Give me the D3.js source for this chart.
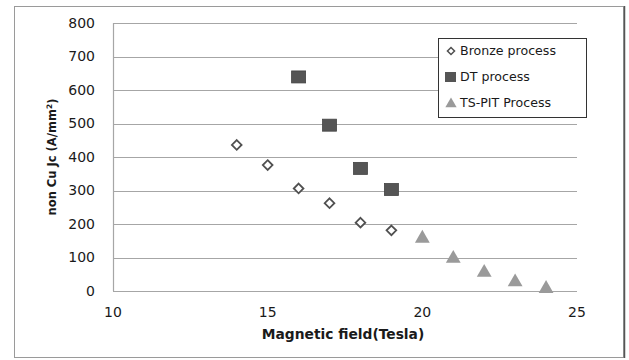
<!DOCTYPE html>
<html>
<head>
<meta charset="utf-8">
<script src="https://cdn.jsdelivr.net/npm/d3@7"></script>
<style>
  body { margin: 0; background: #fff; }
  text { font-family: "DejaVu Sans", "Open Sans", sans-serif; fill: #1a1a1a; }
</style>
</head>
<body>
<svg id="chart" width="629" height="360"></svg>
<script>
'use strict';

// data
var bronzeField = [14, 15, 16, 17, 18, 19];
var bronzeJc    = [436, 376, 306, 262, 204, 181];
var dtField     = [16, 17, 18, 19];
var dtJc        = [639, 495, 366, 303];
var pitField    = [20, 21, 22, 23, 24];
var pitJc       = [160, 100, 58, 30, 10];
var xTicks      = [10, 15, 20, 25];
var yTicks      = [0, 100, 200, 300, 400, 500, 600, 700, 800];
var seriesNames = ['Bronze process', 'DT process', 'TS-PIT Process'];

var svg = d3.select('#chart');
var margin = { left: 113, right: 52, top: 23, bottom: 69 };
var W = 629, H = 360;

// outer frame
svg.append('rect')
  .attr('x', 14.5).attr('y', 6.5)
  .attr('width', 609).attr('height', 351)
  .attr('fill', 'none')
  .attr('stroke', '#9a9a9a');
svg.append('line')
  .attr('x1', 624.5).attr('x2', 624.5)
  .attr('y1', 6).attr('y2', 358)
  .attr('stroke', '#555').attr('stroke-width', 1.5);

var x = d3.scaleLinear().domain([10, 25]).range([margin.left, W - margin.right]);
var y = d3.scaleLinear().domain([0, 800]).range([H - margin.bottom, margin.top]);

// horizontal grid
svg.append('g')
  .selectAll('line')
  .data(yTicks)
  .join('line')
  .attr('x1', x(10)).attr('x2', x(25))
  .attr('y1', (d) => Math.round(y(d)) + 0.5)
  .attr('y2', (d) => Math.round(y(d)) + 0.5)
  .attr('stroke', '#a6a6a6')
  .attr('stroke-width', 1.2);

// y axis line
svg.append('line')
  .attr('x1', x(10) + 0.5).attr('x2', x(10) + 0.5)
  .attr('y1', y(800)).attr('y2', y(0))
  .attr('stroke', '#a6a6a6').attr('stroke-width', 1.2);

// tick labels
svg.append('g')
  .selectAll('text')
  .data(yTicks)
  .join('text')
  .attr('x', x(10) - 18)
  .attr('y', (d) => y(d))
  .attr('dy', '0.35em')
  .attr('text-anchor', 'end')
  .attr('font-size', 14)
  .text((d) => d);

svg.append('g')
  .selectAll('text')
  .data(xTicks)
  .join('text')
  .attr('x', (d) => x(d))
  .attr('y', y(0) + 21)
  .attr('dy', '0.35em')
  .attr('text-anchor', 'middle')
  .attr('font-size', 14)
  .text((d) => d);

// axis titles
svg.append('text')
  .attr('x', (x(10) + x(25)) / 2 - 2)
  .attr('y', 334)
  .attr('dy', '0.35em')
  .attr('text-anchor', 'middle')
  .attr('font-size', 13.8)
  .attr('font-weight', 'bold')
  .text('Magnetic field(Tesla)');

var yTitle = svg.append('text')
  .attr('transform', 'translate(52,' + ((y(0) + y(800)) / 2) + ') rotate(-90)')
  .attr('dy', '0.35em')
  .attr('text-anchor', 'middle')
  .attr('font-size', 11.5)
  .attr('font-weight', 'bold');
yTitle.append('tspan').text('non Cu Jc (A/mm');
yTitle.append('tspan').attr('font-size', 7.5).attr('dy', '-0.6em').text('2');
yTitle.append('tspan').attr('dy', '0.45em').text(')');

// marker shapes
var diamond = d3.symbol().type(d3.symbolDiamond2).size(60);
var triangle = d3.symbol().type(d3.symbolTriangle).size(95);

var bronze = bronzeField.map((f, i) => ({ f: f, v: bronzeJc[i] }));
var dt = dtField.map((f, i) => ({ f: f, v: dtJc[i] }));
var pit = pitField.map((f, i) => ({ f: f, v: pitJc[i] }));

svg.append('g')
  .selectAll('path')
  .data(bronze)
  .join('path')
  .attr('d', diamond)
  .attr('transform', (d) => 'translate(' + x(d.f) + ',' + y(d.v) + ')')
  .attr('fill', '#fff')
  .attr('stroke', '#505050')
  .attr('stroke-width', 1.8);

svg.append('g')
  .selectAll('rect')
  .data(dt)
  .join('rect')
  .attr('x', (d) => x(d.f) - 7)
  .attr('y', (d) => y(d.v) - 6)
  .attr('width', 14).attr('height', 12)
  .attr('fill', '#555')
  .attr('stroke', '#444').attr('stroke-width', 0.8);

svg.append('g')
  .selectAll('path')
  .data(pit)
  .join('path')
  .attr('d', triangle)
  .attr('transform', (d) => 'translate(' + x(d.f) + ',' + (y(d.v) + 1) + ')')
  .attr('fill', '#9a9a9a');

// legend
var lg = svg.append('g').attr('transform', 'translate(438,38)');
lg.append('rect')
  .attr('x', 0.5).attr('y', 0.5)
  .attr('width', 148).attr('height', 79)
  .attr('fill', '#fff')
  .attr('stroke', '#333');

var rows = [13, 39, 65];
lg.append('path')
  .attr('d', d3.symbol().type(d3.symbolDiamond2).size(32))
  .attr('transform', 'translate(13,' + rows[0] + ')')
  .attr('fill', '#fff').attr('stroke', '#505050').attr('stroke-width', 1.5);
lg.append('rect')
  .attr('x', 7).attr('y', rows[1] - 5)
  .attr('width', 11).attr('height', 10)
  .attr('fill', '#555');
lg.append('path')
  .attr('d', d3.symbol().type(d3.symbolTriangle).size(55))
  .attr('transform', 'translate(13,' + (rows[2] + 1) + ')')
  .attr('fill', '#9a9a9a');

lg.selectAll('text.lbl')
  .data(seriesNames)
  .join('text')
  .attr('class', 'lbl')
  .attr('x', 22)
  .attr('y', (d, i) => rows[i])
  .attr('dy', '0.35em')
  .attr('font-size', 12.6)
  .text((d) => d);
</script>
</body>
</html>
